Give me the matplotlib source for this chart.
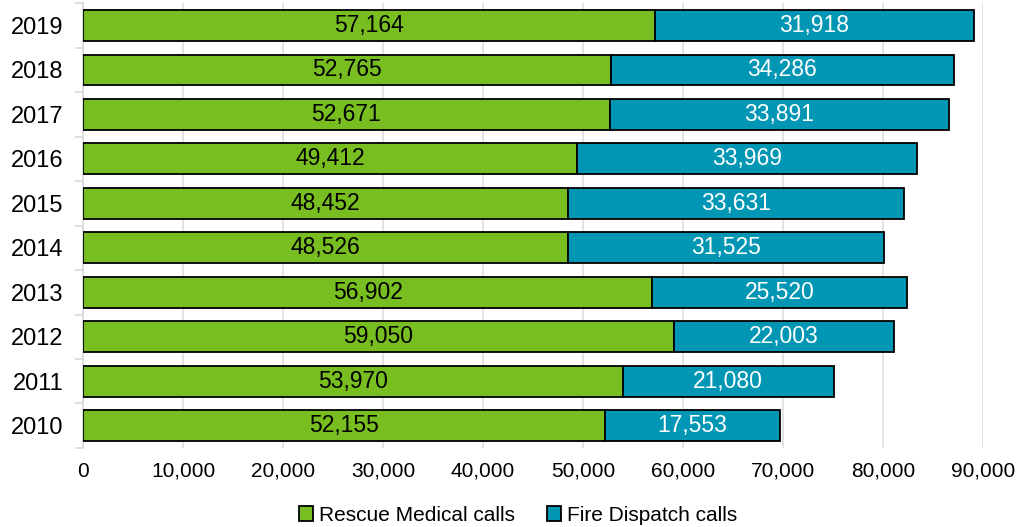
import matplotlib.pyplot as plt
import numpy as np
from matplotlib.ticker import FuncFormatter

plt.rcParams['font.family'] = ['Liberation Sans', 'DejaVu Sans']

years = ["2010", "2011", "2012", "2013", "2014", "2015", "2016", "2017", "2018", "2019"]
rescue = [52155, 53970, 59050, 56902, 48526, 48452, 49412, 52671, 52765, 57164]
fire = [17553, 21080, 22003, 25520, 31525, 33631, 33969, 33891, 34286, 31918]

green = "#78BE20"
blue = "#0096B4"

fig = plt.figure(figsize=(10.16, 5.27), dpi=100)
ax = fig.add_axes([0.0817, 0.15, 0.886, 0.844])

y = np.arange(len(years))
b1 = ax.barh(y, rescue, height=0.69, color=green, edgecolor="black", linewidth=1.3,
             label="Rescue Medical calls", zorder=3)
b2 = ax.barh(y, fire, left=rescue, height=0.69, color=blue, edgecolor="black", linewidth=1.3,
             label="Fire Dispatch calls", zorder=3)

for i in range(len(years)):
    ax.text(rescue[i] / 2, y[i], f"{rescue[i]:,}", ha="center", va="center",
            fontsize=16.5, color="black", zorder=4)
    ax.text(rescue[i] + fire[i] / 2, y[i], f"{fire[i]:,}", ha="center", va="center",
            fontsize=16.5, color="white", zorder=4)

ax.set_xlim(0, 90000)
ax.set_ylim(-0.5, 9.5)
ax.set_xticks(np.arange(0, 90001, 10000))
ax.xaxis.set_major_formatter(FuncFormatter(lambda v, p: f"{int(v):,}"))
ax.set_yticks(y)
ax.set_yticklabels(years)
ax.set_yticks(np.arange(-0.5, 10, 1), minor=True)
ax.tick_params(axis="y", which="major", length=0, labelsize=17, pad=14)
ax.tick_params(axis="y", which="minor", length=6, color="#D9D9D9", width=1.2)
ax.tick_params(axis="x", length=0, labelsize=15, pad=10)

ax.grid(axis="x", color="#E0E0E0", linewidth=1.3, zorder=0)
for s in ["top", "right", "bottom"]:
    ax.spines[s].set_visible(False)
ax.spines["left"].set_color("#D9D9D9")
ax.spines["left"].set_linewidth(1.2)

leg = fig.legend(handles=[b1, b2], loc="center", bbox_to_anchor=(0.51, 0.022),
                 ncol=2, frameon=False, fontsize=15, handlelength=0.7, handleheight=0.7,
                 handletextpad=0.3, columnspacing=1.5)

fig.savefig("out.png", dpi=100)
